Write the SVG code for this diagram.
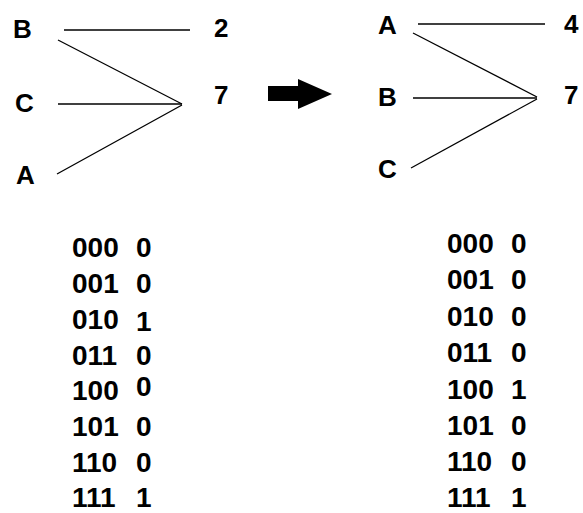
<svg xmlns="http://www.w3.org/2000/svg" width="583" height="513" viewBox="0 0 583 513">
  <style>
    .lbl { font-family: "Liberation Sans", Arial, sans-serif; font-weight: bold; font-size: 26px; fill: #000; }
    .tbl { font-family: "Liberation Sans", Arial, sans-serif; font-weight: bold; font-size: 28px; fill: #000; }
    .wire { stroke: #000; stroke-width: 1.6; fill: none; }
    .diag { stroke: #000; stroke-width: 1.3; fill: none; }
  </style>
  <rect width="583" height="513" fill="#fff"/>

  <!-- connectors: left network, then right network -->
  <g id="connectors">
    <line class="wire" x1="64" y1="30" x2="190" y2="30"/>
    <line class="diag" x1="58" y1="40" x2="182" y2="104"/>
    <line class="wire" x1="58" y1="104" x2="182" y2="104"/>
    <line class="diag" x1="57" y1="174" x2="182" y2="105"/>

    <line class="wire" x1="418" y1="24" x2="545" y2="24"/>
    <line class="diag" x1="413" y1="33" x2="537" y2="97"/>
    <line class="wire" x1="413" y1="98" x2="537" y2="98"/>
    <line class="diag" x1="411" y1="168" x2="537" y2="99"/>
  </g>

  <!-- left network nodes -->
  <g id="left-B"><text class="lbl" x="13" y="38">B</text></g>
  <g id="left-C"><text class="lbl" x="15" y="112">C</text></g>
  <g id="left-A"><text class="lbl" x="16" y="184">A</text></g>
  <g id="left-2"><text class="lbl" x="214" y="37">2</text></g>
  <g id="left-7"><text class="lbl" x="214" y="104">7</text></g>

  <!-- transformation arrow -->
  <g id="arrow">
    <path d="M268,86 H298 V79 L332,94 L298,109 V101 H268 Z" fill="#000"/>
  </g>

  <!-- right network nodes -->
  <g id="right-A"><text class="lbl" x="378" y="34">A</text></g>
  <g id="right-B"><text class="lbl" x="378" y="106">B</text></g>
  <g id="right-C"><text class="lbl" x="378" y="178">C</text></g>
  <g id="right-4"><text class="lbl" x="564" y="33">4</text></g>
  <g id="right-7"><text class="lbl" x="564" y="104">7</text></g>

  <!-- truth table, left -->
  <g id="table-left">
    <text class="tbl" x="72" y="257">000</text><text class="tbl" x="136" y="257">0</text>
    <text class="tbl" x="72" y="293">001</text><text class="tbl" x="136" y="293">0</text>
    <text class="tbl" x="72" y="329">010</text><text class="tbl" x="136" y="331">1</text>
    <text class="tbl" x="72" y="365">011</text><text class="tbl" x="136" y="365">0</text>
    <text class="tbl" x="72" y="400">100</text><text class="tbl" x="136" y="396">0</text>
    <text class="tbl" x="72" y="436">101</text><text class="tbl" x="136" y="436">0</text>
    <text class="tbl" x="72" y="472">110</text><text class="tbl" x="136" y="472">0</text>
    <text class="tbl" x="72" y="507">111</text><text class="tbl" x="136" y="507">1</text>
  </g>

  <!-- truth table, right -->
  <g id="table-right">
    <text class="tbl" x="447" y="253">000</text><text class="tbl" x="511" y="253">0</text>
    <text class="tbl" x="447" y="289">001</text><text class="tbl" x="511" y="289">0</text>
    <text class="tbl" x="447" y="326">010</text><text class="tbl" x="511" y="326">0</text>
    <text class="tbl" x="447" y="362">011</text><text class="tbl" x="511" y="362">0</text>
    <text class="tbl" x="447" y="399">100</text><text class="tbl" x="511" y="399">1</text>
    <text class="tbl" x="447" y="435">101</text><text class="tbl" x="511" y="435">0</text>
    <text class="tbl" x="447" y="471">110</text><text class="tbl" x="511" y="471">0</text>
    <text class="tbl" x="447" y="507">111</text><text class="tbl" x="511" y="507">1</text>
  </g>
</svg>
